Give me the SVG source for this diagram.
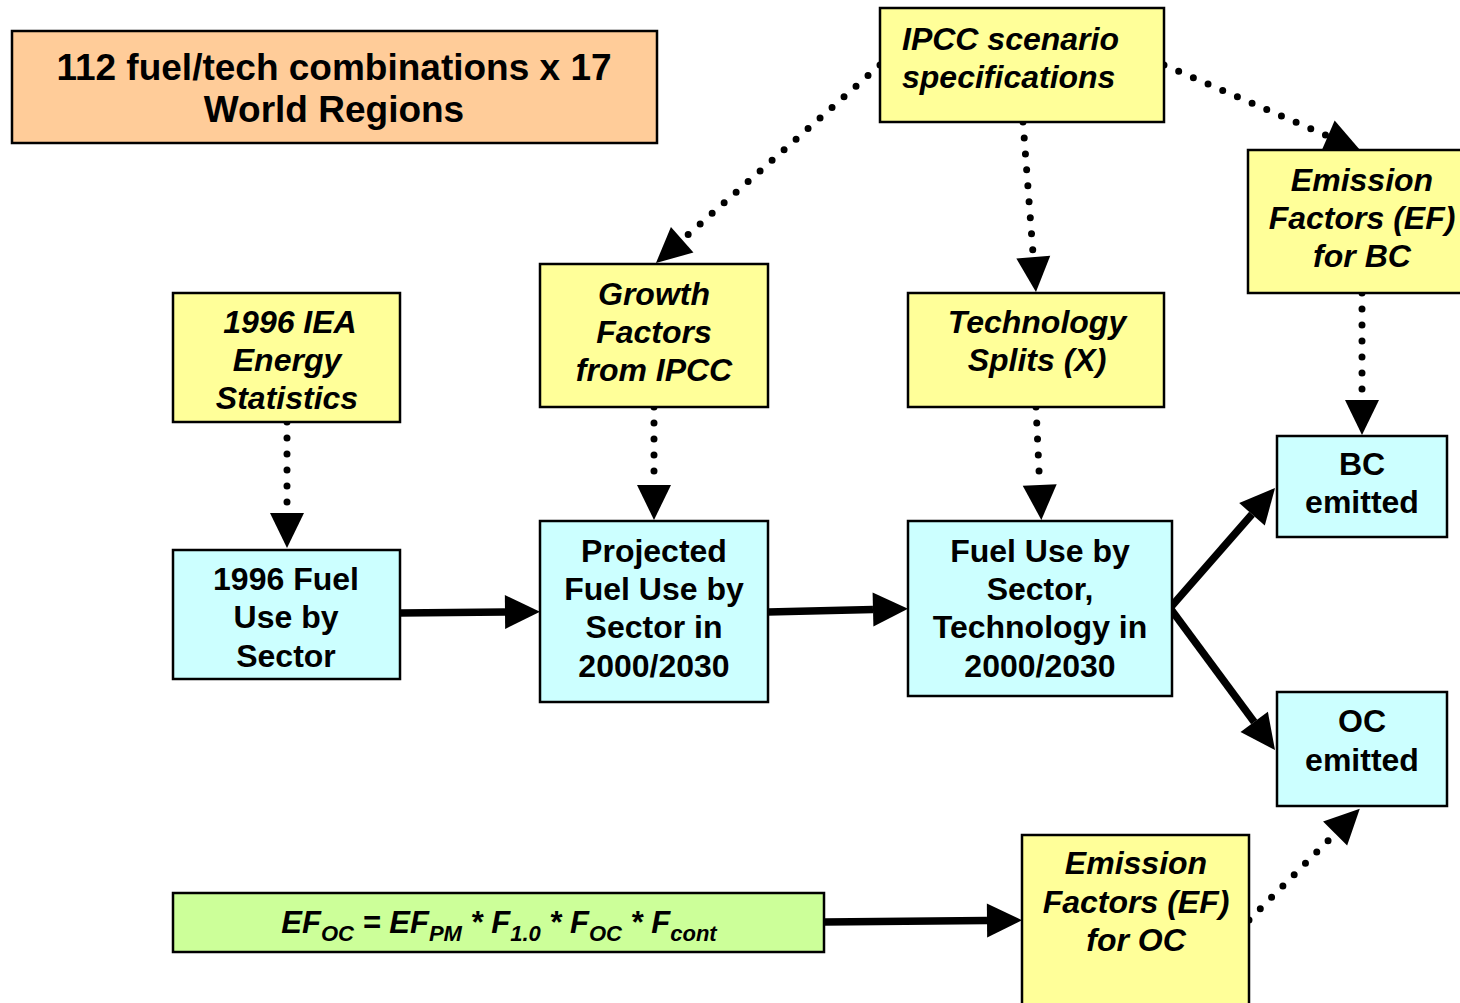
<svg xmlns="http://www.w3.org/2000/svg" width="1460" height="1003" viewBox="0 0 1460 1003">
<defs>
<style>
text{font-family:"Liberation Sans",Arial,sans-serif;font-weight:bold;fill:#000;}
.t{font-size:32px;text-anchor:middle;}
.i{font-style:italic;}
.title{font-size:37px;text-anchor:middle;}
.box{stroke:#000;stroke-width:2.5;}
.y{fill:#FFFF99;}
.c{fill:#CCFFFF;}
.o{fill:#FFCC99;}
.g{fill:#CCFF99;}
.solid{stroke:#000;stroke-width:7.5;fill:none;marker-end:url(#ah);}
.dot{stroke:#000;stroke-width:7;fill:none;stroke-dasharray:0 16;stroke-linecap:round;marker-end:url(#ah);}
</style>
<marker id="ah" markerUnits="userSpaceOnUse" markerWidth="36" markerHeight="36" refX="0" refY="17" orient="auto" overflow="visible">
<path d="M0,0 L35,17 L0,34 Z" fill="#000"/>
</marker>
</defs>
<rect width="1460" height="1003" fill="#fff"/>

<g id="connectors">
<path class="dot" d="M287,422 L287,513"/>
<path class="dot" d="M654,407 L654,485"/>
<path class="dot" d="M1036,407 L1039.7,485"/>
<path class="dot" d="M1362,293 L1362,400"/>
<path class="dot" d="M880,65 L682.2,239.8"/>
<path class="dot" d="M1023,122 L1033.3,257.1"/>
<path class="dot" d="M1164,65 L1327.9,136.1"/>
<path class="dot" d="M1249,920 L1335.1,833.6"/>
<path class="solid" d="M400,613 L505,612"/>
<path class="solid" d="M768,612 L873,609.5"/>
<path class="solid" d="M1170,608 L1252,514.3"/>
<path class="solid" d="M1170,608 L1254.2,721.9"/>
<path class="solid" d="M824,922 L987,920.5"/>
</g>

<g id="title">
<rect class="box o" x="12" y="31" width="645" height="112"/>
<text class="title" x="334" y="80">112 fuel/tech combinations x 17</text>
<text class="title" x="334" y="122">World Regions</text>
</g>

<g id="ipcc">
<rect class="box y" x="880" y="8" width="284" height="114"/>
<text class="i" font-size="32" x="902" y="50">IPCC scenario</text>
<text class="i" font-size="32" x="902" y="88">specifications</text>
</g>

<g id="ef-bc">
<rect class="box y" x="1248" y="150" width="230" height="143"/>
<text class="t i" x="1362" y="191">Emission</text>
<text class="t i" x="1362" y="229">Factors (EF)</text>
<text class="t i" x="1362" y="267">for BC</text>
</g>

<g id="iea">
<rect class="box y" x="173" y="293" width="227" height="129"/>
<text class="t i" x="290" y="333">1996 IEA</text>
<text class="t i" x="287" y="371">Energy</text>
<text class="t i" x="287" y="409">Statistics</text>
</g>

<g id="growth">
<rect class="box y" x="540" y="264" width="228" height="143"/>
<text class="t i" x="654" y="305">Growth</text>
<text class="t i" x="654" y="343">Factors</text>
<text class="t i" x="654" y="381">from IPCC</text>
</g>

<g id="tech-splits">
<rect class="box y" x="908" y="293" width="256" height="114"/>
<text class="t i" x="1037" y="333">Technology</text>
<text class="t i" x="1037" y="371">Splits (X)</text>
</g>

<g id="fuel1996">
<rect class="box c" x="173" y="550" width="227" height="129"/>
<text class="t" x="286" y="590">1996 Fuel</text>
<text class="t" x="286" y="628">Use by</text>
<text class="t" x="286" y="667">Sector</text>
</g>

<g id="projected">
<rect class="box c" x="540" y="521" width="228" height="181"/>
<text class="t" x="654" y="562">Projected</text>
<text class="t" x="654" y="600">Fuel Use by</text>
<text class="t" x="654" y="638">Sector in</text>
<text class="t" x="654" y="677">2000/2030</text>
</g>

<g id="fuel-tech">
<rect class="box c" x="908" y="521" width="264" height="175"/>
<text class="t" x="1040" y="562">Fuel Use by</text>
<text class="t" x="1040" y="600">Sector,</text>
<text class="t" x="1040" y="638">Technology in</text>
<text class="t" x="1040" y="677">2000/2030</text>
</g>

<g id="bc">
<rect class="box c" x="1277" y="436" width="170" height="101"/>
<text class="t" x="1362" y="475">BC</text>
<text class="t" x="1362" y="513">emitted</text>
</g>

<g id="oc">
<rect class="box c" x="1277" y="692" width="170" height="114"/>
<text class="t" x="1362" y="732">OC</text>
<text class="t" x="1362" y="771">emitted</text>
</g>

<g id="formula">
<rect class="box g" x="173" y="893" width="651" height="59"/>
<text class="i" font-size="31" x="499" y="933" text-anchor="middle">EF<tspan dy="8" font-size="22">OC</tspan><tspan dy="-8"> = EF</tspan><tspan dy="8" font-size="22">PM</tspan><tspan dy="-8"> * F</tspan><tspan dy="8" font-size="22">1.0</tspan><tspan dy="-8"> * F</tspan><tspan dy="8" font-size="22">OC</tspan><tspan dy="-8"> * F</tspan><tspan dy="8" font-size="22">cont</tspan></text>
</g>

<g id="ef-oc">
<rect class="box y" x="1022" y="835" width="227" height="180"/>
<text class="t i" x="1136" y="874">Emission</text>
<text class="t i" x="1136" y="913">Factors (EF)</text>
<text class="t i" x="1136" y="951">for OC</text>
</g>
</svg>
